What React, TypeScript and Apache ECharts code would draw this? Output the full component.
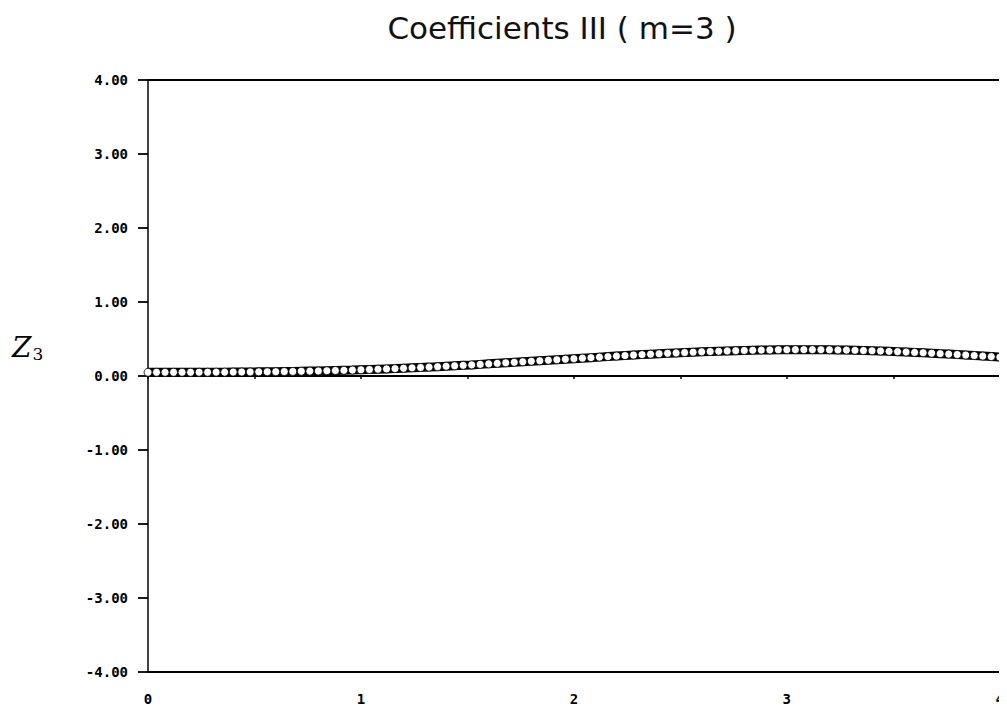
import React, { useEffect, useRef } from "react";
import * as echarts from "echarts";

const TITLE = "Coefficients III ( m=3 )";
const Y_TICKS = [-4, -3, -2, -1, 0, 1, 2, 3, 4];
const X_LABELS = ["0", "1", "2", "3", "4"];
const X_STEP = 0.04;
const Z3_VALUES = [
  0.05, 0.05, 0.05, 0.05, 0.05, 0.05, 0.051, 0.051, 0.052, 0.052,
  0.053, 0.054, 0.055, 0.056, 0.057, 0.058, 0.06, 0.062, 0.064, 0.066,
  0.068, 0.071, 0.074, 0.077, 0.08, 0.084, 0.088, 0.092, 0.096, 0.1,
  0.105, 0.11, 0.115, 0.12, 0.126, 0.132, 0.138, 0.144, 0.15, 0.157,
  0.164, 0.171, 0.178, 0.185, 0.192, 0.199, 0.206, 0.213, 0.22, 0.227,
  0.234, 0.241, 0.248, 0.255, 0.262, 0.269, 0.276, 0.283, 0.289, 0.295,
  0.301, 0.307, 0.312, 0.317, 0.322, 0.327, 0.331, 0.335, 0.339, 0.342,
  0.345, 0.348, 0.35, 0.352, 0.354, 0.355, 0.356, 0.356, 0.356, 0.355,
  0.354, 0.352, 0.35, 0.347, 0.344, 0.341, 0.337, 0.333, 0.329, 0.324,
  0.319, 0.314, 0.308, 0.302, 0.296, 0.29, 0.283, 0.276, 0.269, 0.262,
  0.255,
];
const REF_LINES = [4, 0, -4];
const RIGHT_EDGE = [[4, -1.3], [4, -4]];

export default function App() {
  const ref = useRef<HTMLDivElement>(null);
  useEffect(() => {
    if (!ref.current) return;
    const chart = echarts.init(ref.current, undefined, { renderer: "svg" });
    const data = Z3_VALUES.map((v, i) => [+(i * X_STEP).toFixed(2), v]);
    chart.setOption({
      animation: false,
      backgroundColor: "#fff",
      title: {
        text: TITLE,
        left: 557,
        textAlign: "center",
        top: 7,
        textStyle: {
          fontFamily: "DejaVu Sans",
          fontSize: 31,
          fontWeight: "normal",
          color: "#111",
        },
      },
      grid: { left: 148, right: 3, top: 80, bottom: 55 },
      xAxis: {
        type: "value",
        min: 0,
        max: 4,
        interval: 0.5,
        axisLine: { show: true, lineStyle: { color: "#000", width: 1.8 } },
        axisTick: { show: true, length: 3, lineStyle: { color: "#000", width: 1.5 } },
        splitLine: { show: false },
        axisLabel: {
          margin: 20,
          color: "#000",
          fontFamily: "DejaVu Sans Mono",
          fontSize: 14,
          fontWeight: "bold",
          formatter: (v: number) => (Number.isInteger(v) ? X_LABELS[v] : ""),
        },
      },
      yAxis: {
        type: "value",
        min: Y_TICKS[0],
        max: Y_TICKS[Y_TICKS.length - 1],
        interval: 1,
        axisLine: { show: true, lineStyle: { color: "#000", width: 1.5 } },
        axisTick: { show: true, inside: false, length: 10, lineStyle: { color: "#000", width: 1.8 } },
        splitLine: { show: false },
        axisLabel: {
          margin: 20,
          color: "#000",
          fontFamily: "DejaVu Sans Mono",
          fontSize: 14,
          fontWeight: "bold",
          formatter: (v: number) => v.toFixed(2),
        },
      },
      graphic: [
        {
          type: "text",
          left: 12,
          top: 333,
          style: {
            text: "{z|Z}{s|3}",
            rich: {
              z: {
                fontFamily: "DejaVu Serif",
                fontStyle: "italic",
                fontSize: 28,
                fill: "#000",
              },
              s: {
                fontFamily: "DejaVu Serif",
                fontSize: 17,
                fill: "#000",
                padding: [14, 0, 0, 1],
              },
            },
          },
        },
      ],
      series: [
        {
          type: "line",
          data,
          symbol: "circle",
          symbolSize: 8,
          showSymbol: true,
          lineStyle: { color: "#000", width: 9 },
          itemStyle: { color: "#fff", borderColor: "#000", borderWidth: 0.8 },
          z: 5,
          markLine: {
            silent: true,
            symbol: "none",
            label: { show: false },
            lineStyle: { color: "#000", width: 1.8, type: "solid" },
            data: [
              ...REF_LINES.map((y) => ({ yAxis: y })),
              [
                { coord: RIGHT_EDGE[0] },
                { coord: RIGHT_EDGE[1] },
              ],
            ],
          },
        },
      ],
    });
    return () => chart.dispose();
  }, []);
  return <div ref={ref} style={{ width: 1007, height: 727, margin: -8 }} />;
}
